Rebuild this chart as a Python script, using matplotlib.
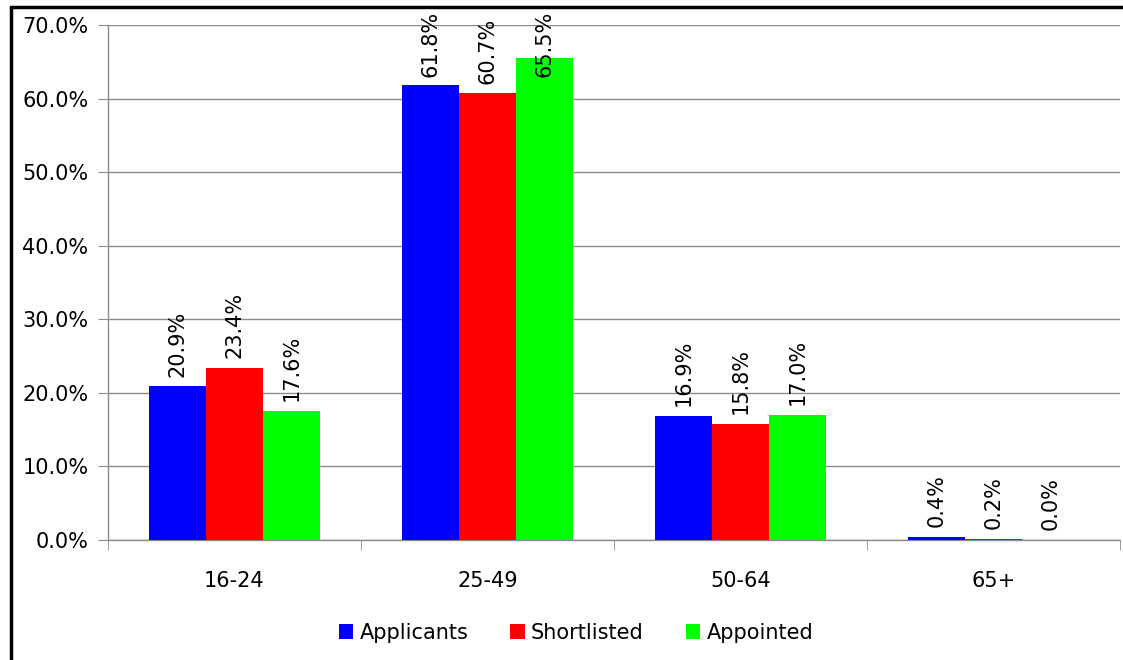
import matplotlib
matplotlib.use("Agg")
import matplotlib.pyplot as plt
from matplotlib.patches import Rectangle
import numpy as np

categories = ["16-24", "25-49", "50-64", "65+"]
applicants = [20.9, 61.8, 16.9, 0.4]
shortlisted = [23.4, 60.7, 15.8, 0.2]
appointed = [17.6, 65.5, 17.0, 0.0]
series_names = ["Applicants", "Shortlisted", "Appointed"]
colors = ["#0000FF", "#FF0000", "#00FF00"]

plt.rcParams['font.family'] = ['DejaVu Sans']
fs = 15

W, H = 1123, 660
fig = plt.figure(figsize=(W/100, H/100), dpi=100)
ax = fig.add_axes([108/W, 1-540/H, (1120-108)/W, (540-25)/H])

x = np.arange(len(categories))
w = 0.225
series = [applicants, shortlisted, appointed]
labels = []
for i, (vals, name, c) in enumerate(zip(series, series_names, colors)):
    pos = x + (i - 1) * w
    ax.bar(pos, vals, width=w, color=c, label=name, zorder=3)
    for px, v in zip(pos, vals):
        t = ax.annotate(f"{v:.1f}%", (px, v), xytext=(0, 7), textcoords="offset points",
                        rotation=90, ha="center", va="bottom", fontsize=fs, zorder=4,
                        annotation_clip=False)
        labels.append(t)

ax.set_xlim(-0.5, 3.5)
ax.set_ylim(0, 70)
ax.set_yticks(np.arange(0, 71, 10))
ax.set_yticklabels([f"{t:.1f}%" for t in np.arange(0, 71, 10)], fontsize=fs)
ax.yaxis.grid(True, color="#8c8c8c", linewidth=1, zorder=0)
ax.set_xticks(x)
ax.set_xticklabels(categories, fontsize=fs)
ax.set_xticks(np.arange(-0.5, 4.0, 1.0), minor=True)
ax.tick_params(axis="x", which="major", length=0, pad=22)
ax.tick_params(axis="x", which="minor", length=7, color="#8c8c8c", direction="out")
ax.tick_params(axis="y", length=7, color="#8c8c8c", pad=7)
for s in ["top", "right"]:
    ax.spines[s].set_visible(False)
for s in ["left", "bottom"]:
    ax.spines[s].set_color("#8c8c8c")
    ax.spines[s].set_linewidth(1)

leg = fig.legend(loc="center", bbox_to_anchor=(576/W, 1-633/H), ncol=3, frameon=False,
                 fontsize=fs, handlelength=0.7, handleheight=0.7, handletextpad=0.3,
                 columnspacing=2.0)

fig.patches.append(Rectangle((11/W, -0.1), 1.2, (1-7/H) + 0.1, transform=fig.transFigure,
                             fill=False, edgecolor="black", linewidth=2.5, zorder=10))

# clamp labels inside the chart area (as the original chart does)
fig.canvas.draw()
renderer = fig.canvas.get_renderer()
top_limit = H - 11  # pixel y (from bottom) of the highest allowed label edge
for t in labels:
    bb = t.get_window_extent(renderer)
    if bb.y1 > top_limit:
        excess = bb.y1 - top_limit
        ox, oy = t.xyann
        t.xyann = (ox, oy - excess * 72 / fig.dpi)

fig.savefig("out.png", dpi=100)
